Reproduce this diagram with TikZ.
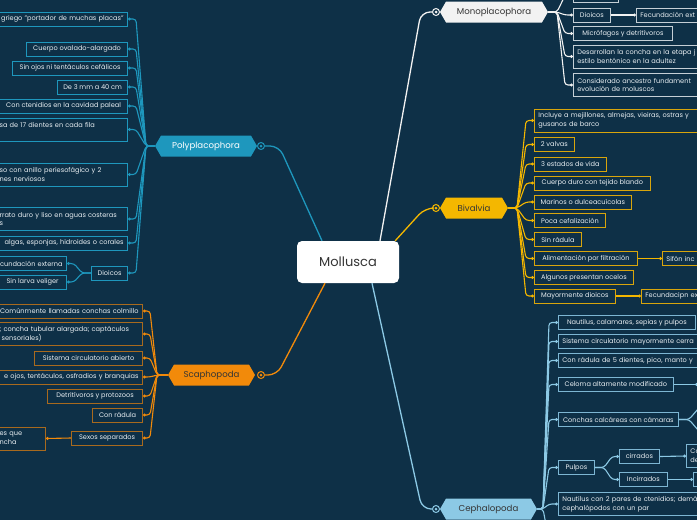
\documentclass[tikz,border=0pt]{standalone}
\usepackage{fontspec}
\setmainfont{Poppins}
\usepackage{tikz}
\usetikzlibrary{shapes.symbols,arrows.meta}
\definecolor{mollbg}{HTML}{0E3047}
\definecolor{mollink}{HTML}{E8EEF2}
\definecolor{molldark}{HTML}{353535}
\definecolor{mollteal}{HTML}{1E97BD}
\definecolor{mollorange}{HTML}{F28A0A}
\definecolor{mollbrown}{HTML}{A86A1E}
\definecolor{mollyellow}{HTML}{F4B700}
\definecolor{mollgold}{HTML}{D8A50C}
\definecolor{mollsky}{HTML}{8CC9E5}
\definecolor{mollskyb}{HTML}{7DB6D3}
\definecolor{mollwhite}{HTML}{F2F2F2}
\definecolor{mollgray}{HTML}{C5CFD6}

\begin{document}
\begin{tikzpicture}[
    x=1pt,y=-1pt,
    leaf/.style    = {draw=#1, fill=mollbg, text=mollink, line width=0.8pt,
                      font=\fontsize{6.6}{8.8}\selectfont, inner xsep=4pt,
                      inner ysep=0pt, minimum height=14pt},
    twoline/.style = {align=left, text width=#1, minimum height=23pt},
    cutleft/.style = {align=right, text width=#1},
    cutright/.style= {align=left, text width=#1},
    hexa/.style    = {signal, signal to=west and east, signal pointer angle=120,
                      fill=#1, minimum height=21pt, inner sep=0pt,
                      font=\fontsize{8.6}{10}\selectfont},
    ring/.style    = {circle, draw=#1, fill=mollbg, line width=1pt,
                      minimum size=7pt, inner sep=0pt,
                      path picture={\fill[#1] (path picture bounding box.center) circle (1.5pt);}},
    trunk/.style   = {draw=#1, line width=1.3pt, rounded corners=9pt},
    twig/.style    = {draw=#1, line width=1.1pt, rounded corners=3pt,
                      -{Circle[length=2.8pt]}},
  ]

  \useasboundingbox (0,0) rectangle (697,520);
  \clip (0,0) rectangle (697,520);
  \fill[mollbg] (0,0) rectangle (697,520);

  % Centre
  \node[fill=white, rounded corners=5pt, minimum width=102pt, minimum height=42pt,
        text=molldark, font=\fontsize{13}{15}\selectfont] (mol) at (348,262) {Mollusca};

  % Classes
  \node[hexa=mollteal, minimum width=102pt, text=white] (ppc) at (206,146) {Polyplacophora};
  \node[hexa=mollwhite, minimum width=108pt, text=molldark] (mnc) at (494,12) {Monoplacophora};
  \node[hexa=mollyellow, minimum width=68pt, text=molldark] (bvc) at (474,208) {Bivalvia};
  \node[hexa=mollorange, minimum width=87pt, text=molldark] (spc) at (211.5,375) {Scaphopoda};
  \node[hexa=mollsky, minimum width=97pt, text=molldark] (cpc) at (488.5,509) {Cephalopoda};

  \node[ring=mollteal]   (ppr) at (261,146) {};
  \node[ring=mollwhite]  (mnr) at (436,12)  {};
  \node[ring=mollyellow] (bvr) at (436,208) {};
  \node[ring=mollorange] (spr) at (261,375) {};
  \node[ring=mollsky]    (cpr) at (436,509) {};

  \draw[trunk=mollteal]   ([xshift=-26pt]mol.north) -- (279,146) -- (ppr.east);
  \draw[trunk=mollwhite]  ([xshift=32pt]mol.north) -- (421,12) -- (mnr.west);
  \draw[trunk=mollyellow] ([xshift=-4pt]mol.north east) -- (425,208) -- (bvr.west);
  \draw[trunk=mollorange] ([xshift=-23pt]mol.south) -- (277,375) -- (spr.east);
  \draw[trunk=mollsky]    ([xshift=24pt]mol.south) -- (422,509) -- (cpr.west);

  % Polyplacophora
  \node[leaf=mollteal, cutleft=160pt, anchor=east] (p1) at (128,19) {griego "portador de muchas placas"};
  \node[leaf=mollteal, minimum width=101pt, anchor=east] (p2) at (128,49) {Cuerpo ovalado-alargado};
  \node[leaf=mollteal, minimum width=115pt, anchor=east] (p3) at (128,68) {Sin ojos ni tentáculos cefálicos};
  \node[leaf=mollteal, minimum width=70pt, anchor=east] (p4) at (128,87) {De 3 mm a 40 cm};
  \node[leaf=mollteal, minimum width=128pt, anchor=east] (p5) at (128,106) {Con ctenidios en la cavidad paleal};
  \node[leaf=mollteal, twoline=124pt, anchor=east] (p6) at (128,129.5) {sa de 17 dientes en cada fila\\ \mbox{}};
  \node[leaf=mollteal, twoline=124pt, anchor=east] (p7) at (128,174.5) {so con anillo periesofágico y 2\\nes nerviosos};
  \node[leaf=mollteal, twoline=124pt, anchor=east] (p8) at (128,219) {rrato duro y liso en aguas costeras\\s};
  \node[leaf=mollteal, cutleft=160pt, anchor=east] (p9) at (128,243) {algas, esponjas, hidroides o corales};
  \node[leaf=mollteal, minimum width=36pt, anchor=east] (p10) at (128,273) {Dioicos};
  \node[leaf=mollteal, cutleft=90pt, anchor=east] (p10a) at (67,263.5) {cundación externa};
  \node[leaf=mollteal, minimum width=68pt, anchor=east] (p10b) at (67,282) {Sin larva veliger};

  \coordinate (pj) at (146,146);
  \draw[twig=mollteal] (ppc.west) -- (pj) -- ([xshift=8pt]p1.east) -- (p1.east);
  \draw[twig=mollteal] (ppc.west) -- (pj) -- ([xshift=8pt]p2.east) -- (p2.east);
  \draw[twig=mollteal] (ppc.west) -- (pj) -- ([xshift=8pt]p3.east) -- (p3.east);
  \draw[twig=mollteal] (ppc.west) -- (pj) -- ([xshift=8pt]p4.east) -- (p4.east);
  \draw[twig=mollteal] (ppc.west) -- (pj) -- ([xshift=8pt]p5.east) -- (p5.east);
  \draw[twig=mollteal] (ppc.west) -- (pj) -- ([xshift=8pt]p6.east) -- (p6.east);
  \draw[twig=mollteal] (ppc.west) -- (pj) -- ([xshift=8pt]p7.east) -- (p7.east);
  \draw[twig=mollteal] (ppc.west) -- (pj) -- ([xshift=8pt]p8.east) -- (p8.east);
  \draw[twig=mollteal] (ppc.west) -- (pj) -- ([xshift=8pt]p9.east) -- (p9.east);
  \draw[twig=mollteal] (ppc.west) -- (pj) -- ([xshift=8pt]p10.east) -- (p10.east);
  \draw[twig=mollteal] (p10.west) -- (82,273) -- ([xshift=7pt]p10a.east) -- (p10a.east);
  \draw[twig=mollteal] (p10.west) -- (82,273) -- ([xshift=7pt]p10b.east) -- (p10b.east);

  % Scaphopoda
  \node[leaf=mollbrown, cutleft=160pt, anchor=east] (s1) at (143,311) {Comúnmente llamadas conchas colmillo};
  \node[leaf=mollbrown, twoline=139pt, anchor=east] (s2) at (143,334) {; concha tubular alargada; captáculos\\\hspace*{2pt}sensoriales)};
  \node[leaf=mollbrown, minimum width=108pt, anchor=east] (s3) at (143,358) {Sistema circulatorio abierto};
  \node[leaf=mollbrown, cutleft=170pt, anchor=east] (s4) at (143,377) {e ojos, tentáculos, osfradios y branquias};
  \node[leaf=mollbrown, minimum width=95pt, anchor=east] (s5) at (143,396) {Detritívoros y protozoos};
  \node[leaf=mollbrown, minimum width=50pt, anchor=east] (s6) at (143,415) {Con rádula};
  \node[leaf=mollbrown, minimum width=71pt, anchor=east] (s7) at (143,438) {Sexos separados};
  \node[leaf=mollbrown, twoline=42pt, anchor=east] (s7a) at (46,438.5) {es que\\ncha};

  \coordinate (sj) at (157,375);
  \draw[twig=mollorange] (spc.west) -- (sj) -- ([xshift=7pt]s1.east) -- (s1.east);
  \draw[twig=mollorange] (spc.west) -- (sj) -- ([xshift=7pt]s2.east) -- (s2.east);
  \draw[twig=mollorange] (spc.west) -- (sj) -- ([xshift=7pt]s3.east) -- (s3.east);
  \draw[twig=mollorange] (spc.west) -- (sj) -- ([xshift=7pt]s4.east) -- (s4.east);
  \draw[twig=mollorange] (spc.west) -- (sj) -- ([xshift=7pt]s5.east) -- (s5.east);
  \draw[twig=mollorange] (spc.west) -- (sj) -- ([xshift=7pt]s6.east) -- (s6.east);
  \draw[twig=mollorange] (spc.west) -- (sj) -- ([xshift=7pt]s7.east) -- (s7.east);
  \draw[twig=mollorange] (s7.west) -- (s7a.east);

  % Monoplacophora
  \node[leaf=mollgray, minimum width=45pt, anchor=west] (m0) at (573,-4.5) {};
  \node[leaf=mollgray, minimum width=37pt, anchor=west] (m1) at (573,15) {Dioicos};
  \node[leaf=mollgray, cutright=100pt, anchor=west] (m1a) at (636,15) {Fecundación ext};
  \node[leaf=mollgray, minimum width=99pt, anchor=west] (m2) at (573,33.5) {Micrófagos y detritívoros};
  \node[leaf=mollgray, twoline=160pt, anchor=west] (m3) at (573,56.5) {Desarrollan la concha en la etapa j\\estilo bentónico en la adultez};
  \node[leaf=mollgray, twoline=160pt, anchor=west] (m4) at (573,85) {Considerado ancestro fundament\\evolución de moluscos};

  \coordinate (mj) at (557,12);
  \draw[twig=mollwhite] (mnc.east) -- (mj) -- ([xshift=-8pt]m0.west) -- (m0.west);
  \draw[twig=mollwhite] (mnc.east) -- (mj) -- ([xshift=-8pt]m1.west) -- (m1.west);
  \draw[twig=mollwhite] (mnc.east) -- (mj) -- ([xshift=-8pt]m2.west) -- (m2.west);
  \draw[twig=mollwhite] (mnc.east) -- (mj) -- ([xshift=-8pt]m3.west) -- (m3.west);
  \draw[twig=mollwhite] (mnc.east) -- (mj) -- ([xshift=-8pt]m4.west) -- (m4.west);
  \draw[twig=mollwhite] (m1.east) -- (m1a.west);

  % Bivalvia
  \node[leaf=mollgold, twoline=190pt, anchor=west] (b1) at (534,120.5) {Incluye a mejillones, almejas, vieiras, ostras y\\gusanos de barco};
  \node[leaf=mollgold, minimum width=40pt, anchor=west] (b2) at (534,144.5) {2 valvas};
  \node[leaf=mollgold, minimum width=72pt, anchor=west] (b3) at (534,164) {3 estados de vida};
  \node[leaf=mollgold, minimum width=116pt, anchor=west] (b4) at (534,183) {Cuerpo duro con tejido blando};
  \node[leaf=mollgold, minimum width=97pt, anchor=west] (b5) at (534,202) {Marinos o dulceacuícolas};
  \node[leaf=mollgold, minimum width=71pt, anchor=west] (b6) at (534,220.5) {Poca cefalización};
  \node[leaf=mollgold, minimum width=47pt, anchor=west] (b7) at (534,239.5) {Sin rádula};
  \node[leaf=mollgold, minimum width=103pt, anchor=west] (b8) at (534,258.5) {Alimentación por filtración};
  \node[leaf=mollgold, cutright=80pt, anchor=west] (b8a) at (662,258.5) {Sifón inc};
  \node[leaf=mollgold, minimum width=99pt, anchor=west] (b9) at (534,277.5) {Algunos presentan ocelos};
  \node[leaf=mollgold, minimum width=81pt, anchor=west] (b10) at (534,296) {Mayormente dioicos};
  \node[leaf=mollgold, cutright=90pt, anchor=west] (b10a) at (641,296) {Fecundacipn ex};

  \coordinate (bj) at (517,208);
  \draw[twig=mollyellow] (bvc.east) -- (bj) -- ([xshift=-8pt]b1.west) -- (b1.west);
  \draw[twig=mollyellow] (bvc.east) -- (bj) -- ([xshift=-8pt]b2.west) -- (b2.west);
  \draw[twig=mollyellow] (bvc.east) -- (bj) -- ([xshift=-8pt]b3.west) -- (b3.west);
  \draw[twig=mollyellow] (bvc.east) -- (bj) -- ([xshift=-8pt]b4.west) -- (b4.west);
  \draw[twig=mollyellow] (bvc.east) -- (bj) -- ([xshift=-8pt]b5.west) -- (b5.west);
  \draw[twig=mollyellow] (bvc.east) -- (bj) -- ([xshift=-8pt]b6.west) -- (b6.west);
  \draw[twig=mollyellow] (bvc.east) -- (bj) -- ([xshift=-8pt]b7.west) -- (b7.west);
  \draw[twig=mollyellow] (bvc.east) -- (bj) -- ([xshift=-8pt]b8.west) -- (b8.west);
  \draw[twig=mollyellow] (bvc.east) -- (bj) -- ([xshift=-8pt]b9.west) -- (b9.west);
  \draw[twig=mollyellow] (bvc.east) -- (bj) -- ([xshift=-8pt]b10.west) -- (b10.west);
  \draw[twig=mollyellow] (b8.east) -- (b8a.west);
  \draw[twig=mollyellow] (b10.east) -- (b10a.west);

  % Cephalopoda
  \node[leaf=mollskyb, minimum width=137pt, anchor=west] (c1) at (558,322.5) {Nautilus, calamares, sepias y pulpos};
  \node[leaf=mollskyb, cutright=170pt, anchor=west] (c2) at (558,341.5) {Sistema circulatorio mayormente cerra};
  \node[leaf=mollskyb, cutright=170pt, anchor=west] (c3) at (558,360.5) {Con rádula de 5 dientes, pico, manto y};
  \node[leaf=mollskyb, minimum width=115pt, anchor=west] (c4) at (558,384.5) {Celoma altamente modificado};
  \node[leaf=mollskyb, minimum width=120pt, anchor=west] (c5) at (558,419.5) {Conchas calcáreas con cámaras};
  \node[leaf=mollskyb, minimum width=36pt, anchor=west] (c6) at (558,467.5) {Pulpos};
  \node[leaf=mollskyb, minimum width=40pt, anchor=west] (c6a) at (619,456.5) {cirrados};
  \node[leaf=mollskyb, minimum width=48pt, anchor=west] (c6b) at (619,479.5) {Incirrados};
  \node[leaf=mollskyb, twoline=40pt, anchor=west] (c6c) at (686,456) {Co\\de};
  \node[leaf=mollskyb, minimum width=30pt, anchor=west] (c6d) at (693,479.5) {};
  \node[leaf=mollskyb, twoline=170pt, anchor=west] (c7) at (558,504) {Nautilus con 2 pares de ctenidios; demá\\cephalópodos con un par};

  \coordinate (cj) at (543,509);
  \coordinate (c4x) at (698,384.5);
  \coordinate (c5u) at (704,402);
  \coordinate (c5d) at (704,437);
  \coordinate (c8) at (548,535);
  \draw[twig=mollsky] (cpc.east) -- (cj) -- ([xshift=-9pt]c1.west) -- (c1.west);
  \draw[twig=mollsky] (cpc.east) -- (cj) -- ([xshift=-9pt]c2.west) -- (c2.west);
  \draw[twig=mollsky] (cpc.east) -- (cj) -- ([xshift=-9pt]c3.west) -- (c3.west);
  \draw[twig=mollsky] (cpc.east) -- (cj) -- ([xshift=-9pt]c4.west) -- (c4.west);
  \draw[twig=mollsky] (cpc.east) -- (cj) -- ([xshift=-9pt]c5.west) -- (c5.west);
  \draw[twig=mollsky] (cpc.east) -- (cj) -- ([xshift=-9pt]c6.west) -- (c6.west);
  \draw[twig=mollsky] (cpc.east) -- (cj) -- ([xshift=-9pt]c7.west) -- (c7.west);
  \draw[twig=mollsky] (cpc.east) -- (cj) -- (c8);
  \draw[twig=mollsky] (c4.east) -- (c4x);
  \draw[twig=mollsky] (c5.east) -- (689,419.5) -- (c5u);
  \draw[twig=mollsky] (c5.east) -- (689,419.5) -- (c5d);
  \draw[twig=mollsky] (c6.east) -- (604,467.5) -- ([xshift=-7pt]c6a.west) -- (c6a.west);
  \draw[twig=mollsky] (c6.east) -- (604,467.5) -- ([xshift=-7pt]c6b.west) -- (c6b.west);
  \draw[twig=mollsky] (c6a.east) -- (c6c.west);
  \draw[twig=mollsky] (c6b.east) -- (c6d.west);

\end{tikzpicture}
\end{document}
